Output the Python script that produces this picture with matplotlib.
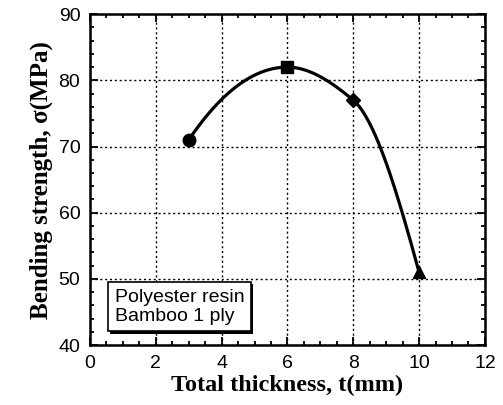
import matplotlib
matplotlib.use("Agg")
import matplotlib.pyplot as plt
import matplotlib.patheffects as pe
import numpy as np
from matplotlib.ticker import MultipleLocator

# data
thickness = [3, 6, 8, 10]          # t (mm)
strength = [71, 82, 77, 51]        # sigma (MPa)
markers = ['o', 's', 'D', '^']
box_text = "Polyester resin\nBamboo 1 ply"


def pchip_curve(x, y, n=300):
    # shape preserving cubic (Fritsch-Carlson) for the smooth line through the points
    x = np.asarray(x, float)
    y = np.asarray(y, float)
    h = np.diff(x)
    m = np.diff(y) / h
    k = len(x)
    d = np.zeros(k)
    for i in range(1, k - 1):
        if m[i - 1] * m[i] <= 0:
            d[i] = 0.0
        else:
            w1 = 2 * h[i] + h[i - 1]
            w2 = h[i] + 2 * h[i - 1]
            d[i] = (w1 + w2) / (w1 / m[i - 1] + w2 / m[i])
    d[0] = ((2 * h[0] + h[1]) * m[0] - h[0] * m[1]) / (h[0] + h[1])
    d[-1] = ((2 * h[-1] + h[-2]) * m[-1] - h[-1] * m[-2]) / (h[-1] + h[-2])
    xs = np.linspace(x[0], x[-1], n)
    idx = np.clip(np.searchsorted(x, xs) - 1, 0, k - 2)
    hh = h[idx]
    t = (xs - x[idx]) / hh
    h00 = 2 * t**3 - 3 * t**2 + 1
    h10 = t**3 - 2 * t**2 + t
    h01 = -2 * t**3 + 3 * t**2
    h11 = t**3 - t**2
    ys = h00 * y[idx] + h10 * hh * d[idx] + h01 * y[idx + 1] + h11 * hh * d[idx + 1]
    return xs, ys


plt.rcParams['font.family'] = ['Liberation Sans', 'DejaVu Sans']

fig = plt.figure(figsize=(5.03, 4.05), dpi=100)
ax = fig.add_axes([0.179, 0.148, 0.785, 0.817])

xs, ys = pchip_curve(thickness, strength)
ax.plot(xs, ys, color='black', linewidth=2.3, zorder=3)
for x, y, m in zip(thickness, strength, markers):
    ax.plot(x, y, marker=m, color='black', markersize=9 if m != 'D' else 7,
            linestyle='none', zorder=4)

ax.set_xlim(0, 12)
ax.set_ylim(40, 90)
ax.xaxis.set_major_locator(MultipleLocator(2))
ax.xaxis.set_minor_locator(MultipleLocator(0.5))
ax.yaxis.set_major_locator(MultipleLocator(10))
ax.yaxis.set_minor_locator(MultipleLocator(2))
ax.tick_params(which='both', direction='in', top=True, right=True, width=1.3)
ax.tick_params(which='major', length=6, labelsize=14, pad=7)
ax.tick_params(which='minor', length=3)
for s in ax.spines.values():
    s.set_linewidth(1.8)

ax.grid(True, which='major', color='black', linestyle=(0, (1.5, 2)), linewidth=1)

ax.set_xlabel("Total thickness, t(mm)", family=['Liberation Serif'],
              fontweight='bold', fontsize=17.5, labelpad=2)
ax.set_ylabel("Bending strength, σ(MPa)", family=['Liberation Serif'],
              fontweight='bold', fontsize=18, labelpad=4)

t = ax.text(0.75, 45.8, box_text, fontsize=14, va='center', ha='left', zorder=5,
            linespacing=1.15,
            bbox=dict(boxstyle='square,pad=0.35', facecolor='white',
                      edgecolor='black', linewidth=1.2))
t.get_bbox_patch().set_path_effects([
    pe.SimplePatchShadow(offset=(1.5, -1.5), shadow_rgbFace='black', alpha=1),
    pe.Normal()])

fig.savefig("out.png", dpi=100)
